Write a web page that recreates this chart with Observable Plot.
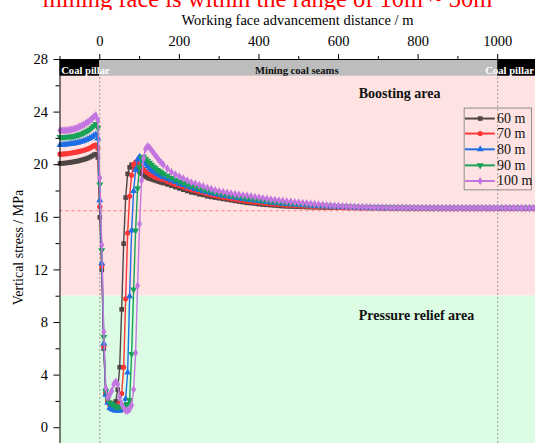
<!DOCTYPE html>
<html><head><meta charset="utf-8">
<script src="https://cdn.jsdelivr.net/npm/d3@7"></script>
<script src="https://cdn.jsdelivr.net/npm/@observablehq/plot@0.6"></script>
<style>
body{margin:0;background:#fff;width:535px;height:443px;overflow:hidden;font-family:"Liberation Serif",serif}
#title{height:10px;overflow:hidden;position:relative;width:535px}
#title span{position:absolute;left:0;width:535px;top:-10.5px;text-align:center;font-size:24.5px;line-height:18px;color:#ff0000;white-space:nowrap}
#chart svg{display:block}
</style></head>
<body>
<div id="title"><span>mining face is within the range of 10m ~ 30m</span></div>
<div id="chart"></div>
<script>
// distance along the working face (m)
const X = [-100,-95,-90,-85,-80,-75,-70,-65,-60,-55,-50,-45,-40,-35,-30,-25,-20,
-15,-10,-5,0,5,10,15,20,
25,30,35,40,45,50,55,60,65,70,75,80,85,90,95,100,105,110,115,120,125,130,135,140,145,150,155,160,
170,180,190,200,210,220,230,240,250,260,270,280,290,300,310,320,330,340,350,360,370,380,390,400,
410,420,430,440,450,460,470,480,490,500,510,520,530,540,550,560,570,580,590,600,610,620,630,640,650,660,670,680,690,700,
710,720,730,740,750,760,770,780,790,800,810,820,830,840,850,860,870,880,890,900,
910,920,930,940,950,960,970,980,990,1000,1010,1020,1030,1040,1050,1060,1070,1080,1090,1100];

const S60 = [20.1,20.1,20.12,20.13,20.15,20.17,20.2,20.22,20.25,20.28,20.32,20.36,20.4,20.45,20.5,20.57,20.65,
20.75,20.8,20.55,16.0,12.0,6.0,2.7,2.1,
1.9,1.8,1.8,2.0,2.9,4.6,9.0,14.0,17.5,19.3,19.8,20.0,19.9,19.75,19.6,19.45,19.3,19.2,19.1,19.0,18.95,18.9,18.85,18.8,18.75,18.7,18.65,18.6,
18.5,18.4,18.3,18.2,18.1,18.0,17.9,17.85,17.75,17.7,17.6,17.55,17.5,17.45,17.4,17.35,17.3,17.25,17.2,17.15,17.1,17.08,17.05,17.0,
16.97,16.95,16.92,16.9,16.87,16.85,16.83,16.82,16.81,16.8,16.79,16.78,16.77,16.76,16.76,16.75,16.75,16.74,16.74,16.73,16.73,16.72,16.72,16.72,16.72,16.71,16.71,16.71,16.71,16.7,
16.7,16.7,16.7,16.7,16.7,16.7,16.7,16.7,16.7,16.7,16.7,16.7,16.7,16.7,16.7,16.7,16.7,16.7,16.7,16.7,
16.7,16.7,16.7,16.7,16.7,16.7,16.7,16.7,16.7,16.7,16.7,16.7,16.7,16.7,16.7,16.7,16.7,16.7,16.7,16.7];

const S70 = [20.8,20.8,20.82,20.83,20.85,20.87,20.9,20.92,20.95,20.98,21.02,21.06,21.1,21.15,21.2,21.27,21.35,
21.45,21.5,21.25,16.8,12.3,6.2,2.6,2.0,
1.7,1.6,1.6,1.6,1.7,1.9,2.6,4.6,9.8,14.8,17.6,19.2,20.0,20.2,20.1,19.95,19.8,19.65,19.5,19.4,19.3,19.2,19.15,19.05,19.0,18.95,18.9,18.85,
18.72,18.6,18.5,18.4,18.3,18.2,18.1,18.02,17.94,17.86,17.78,17.7,17.64,17.58,17.52,17.47,17.42,17.37,17.32,17.27,17.23,17.19,17.15,17.12,
17.08,17.05,17.02,17.0,16.97,16.95,16.92,16.9,16.88,16.87,16.85,16.84,16.82,16.81,16.8,16.79,16.78,16.77,16.76,16.76,16.75,16.75,16.74,16.74,16.73,16.73,16.72,16.72,16.72,16.72,
16.71,16.71,16.71,16.71,16.71,16.7,16.7,16.7,16.7,16.7,16.7,16.7,16.7,16.7,16.7,16.7,16.7,16.7,16.7,16.7,
16.7,16.7,16.7,16.7,16.7,16.7,16.7,16.7,16.7,16.7,16.7,16.7,16.7,16.7,16.7,16.7,16.7,16.7,16.7,16.7];

const S80 = [21.5,21.5,21.52,21.53,21.55,21.57,21.6,21.62,21.65,21.68,21.72,21.77,21.82,21.88,21.95,22.02,22.1,
22.22,22.3,22.0,17.3,12.5,6.4,2.5,1.9,
1.5,1.4,1.35,1.3,1.3,1.3,1.35,1.5,2.2,4.2,10.0,15.0,18.0,19.6,20.4,20.6,20.45,20.25,20.05,19.9,19.75,19.6,19.5,19.4,19.3,19.2,19.12,19.05,
18.92,18.8,18.68,18.56,18.45,18.35,18.25,18.15,18.07,17.99,17.91,17.84,17.77,17.71,17.65,17.6,17.55,17.5,17.45,17.4,17.36,17.32,17.28,17.24,
17.2,17.16,17.13,17.1,17.07,17.04,17.01,16.99,16.97,16.95,16.93,16.91,16.9,16.88,16.86,16.85,16.84,16.83,16.82,16.81,16.8,16.79,16.78,16.77,16.77,16.76,16.76,16.75,16.75,16.74,
16.74,16.73,16.73,16.72,16.72,16.72,16.71,16.71,16.71,16.7,16.7,16.7,16.7,16.7,16.7,16.7,16.7,16.7,16.7,16.7,
16.7,16.7,16.7,16.7,16.7,16.7,16.7,16.7,16.7,16.7,16.7,16.7,16.7,16.7,16.7,16.7,16.7,16.7,16.7,16.7];

const S90 = [22.1,22.1,22.1,22.11,22.12,22.13,22.15,22.17,22.2,22.25,22.3,22.36,22.42,22.5,22.58,22.68,22.8,
22.95,23.1,22.8,18.5,13.5,6.9,2.8,2.2,
1.9,1.8,1.7,1.6,1.6,1.6,1.6,1.65,1.7,1.8,2.1,5.6,10.5,15.0,18.2,19.8,20.5,20.6,20.45,20.3,20.15,20.0,19.85,19.72,19.6,19.5,19.4,19.3,
19.15,19.0,18.86,18.73,18.6,18.5,18.4,18.3,18.2,18.12,18.04,17.96,17.89,17.82,17.76,17.7,17.65,17.6,17.55,17.5,17.45,17.41,17.37,17.33,
17.29,17.25,17.21,17.18,17.15,17.12,17.09,17.06,17.03,17.01,16.99,16.97,16.95,16.93,16.91,16.9,16.88,16.87,16.85,16.84,16.83,16.82,16.81,16.8,16.79,16.78,16.77,16.76,16.76,16.75,
16.75,16.74,16.74,16.73,16.73,16.73,16.72,16.72,16.72,16.71,16.71,16.71,16.7,16.7,16.7,16.7,16.7,16.7,16.7,16.7,
16.7,16.7,16.7,16.7,16.7,16.7,16.7,16.7,16.7,16.7,16.7,16.7,16.7,16.7,16.7,16.7,16.7,16.7,16.7,16.7];

const S100 = [22.6,22.6,22.6,22.61,22.62,22.65,22.68,22.71,22.75,22.82,22.9,22.97,23.05,23.15,23.25,23.37,23.5,
23.65,23.75,23.4,19.0,13.9,7.3,3.0,2.3,
2.5,2.8,3.3,3.5,3.3,2.3,1.8,1.5,1.3,1.3,1.4,1.7,2.9,5.7,10.8,15.5,18.8,20.5,21.2,21.4,21.3,21.1,20.9,20.7,20.5,20.3,20.15,20.0,
19.7,19.45,19.25,19.1,18.95,18.8,18.65,18.55,18.45,18.35,18.25,18.15,18.05,17.98,17.92,17.86,17.81,17.76,17.72,17.68,17.64,17.6,17.55,17.5,
17.45,17.4,17.36,17.32,17.28,17.25,17.21,17.18,17.15,17.12,17.09,17.06,17.03,17.0,16.97,16.95,16.92,16.9,16.88,16.86,16.84,16.83,16.81,16.8,16.79,16.78,16.77,16.76,16.75,16.75,
16.74,16.74,16.73,16.73,16.73,16.72,16.72,16.72,16.72,16.71,16.71,16.71,16.71,16.71,16.7,16.7,16.7,16.7,16.7,16.7,
16.7,16.7,16.7,16.7,16.7,16.7,16.7,16.7,16.7,16.7,16.7,16.7,16.7,16.7,16.7,16.7,16.7,16.7,16.7,16.7];

const seriesNames = ["60 m","70 m","80 m","90 m","100 m"];
const seriesColors = ["#4f4545","#ff3636","#1f6fe6","#17a258","#c476e0"];
const xTicks = [0,200,400,600,800,1000];
const xMinor = [-100,100,300,500,700,900];
const yTicks = [0,4,8,12,16,20,24,28];
const yMinor = [2,6,10,14,18,22,26];
const xTitle = "Working face advancement distance / m";
const yTitle = "Vertical stress / MPa";
const barLabels = ["Coal pillar","Mining coal seams","Coal pillar"];
const zoneLabels = ["Boosting area","Pressure relief area"];
const zoneBoundary = 10;      // MPa, boosting / relief boundary
const originalStress = 16.5;  // MPa, red dashed reference
const faceEnds = [0,1000];

const xDomain = [-100,1095];
const yDomain = [-1.2,28];
const font = "Liberation Serif";

const triDown = {draw(ctx, size){const s3=Math.sqrt(3);const y=-Math.sqrt(size/(s3*3));ctx.moveTo(0,-y*2);ctx.lineTo(-s3*y,y);ctx.lineTo(s3*y,y);ctx.closePath();}};
const symbols = ["square","circle","triangle",triDown,"diamond"];

const allSeries = [S60,S70,S80,S90,S100];
allSeries.forEach((a,i)=>{ if(a.length!==X.length) console.error("length mismatch", seriesNames[i], a.length, X.length); });
const seriesMarks = allSeries.flatMap((arr,i)=>{
  const rows = arr.map((v,j)=>({x:X[j], y:v}));
  return [
    Plot.line(rows,{x:"x",y:"y",stroke:seriesColors[i],strokeWidth:1.4}),
    Plot.dot(rows,{x:"x",y:"y",fill:seriesColors[i],r:2.6,symbol:()=>symbols[i]})
  ];
});

// legend (decoration) in data units
const legY = [23.51,22.37,21.17,19.95,18.76];
const legendRows = seriesNames.map((n,i)=>({name:n,y:legY[i],i}));
const legendMarks = [
  Plot.rect([0],{x1:917,x2:1086,y1:18.05,y2:24.27,stroke:"#8c8c8c",fill:"none",strokeWidth:1}),
  Plot.ruleY(legendRows,{y:"y",x1:919,x2:994,stroke:d=>seriesColors[d.i],strokeWidth:2}),
  ...legendRows.map(d=>Plot.dot([d],{x:956,y:"y",fill:seriesColors[d.i],r:2.6,symbol:()=>symbols[d.i]})),
  Plot.text(legendRows,{x:998,y:"y",text:"name",textAnchor:"start",fontSize:14,fontFamily:font,fill:"#111"})
];

const bars = [
  {x1:-100,x2:0,fill:"#000"},
  {x1:0,x2:1000,fill:"#bdbdbd"},
  {x1:1000,x2:xDomain[1],fill:"#000"}
];
const barTextOpts = {y:26.91,lineAnchor:"bottom",fontSize:10.6,fontWeight:"bold",fontFamily:font};

const chart = Plot.plot({
  width:535, height:433,
  marginLeft:59.5, marginRight:0, marginTop:49, marginBottom:0,
  style:{fontFamily:font, color:"#000", background:"transparent", overflow:"visible"},
  x:{domain:xDomain},
  y:{domain:yDomain},
  marks:[
    Plot.rect([0],{x1:xDomain[0],x2:xDomain[1],y1:zoneBoundary,y2:28,fill:"#ffe3e3"}),
    Plot.rect([0],{x1:xDomain[0],x2:xDomain[1],y1:yDomain[0],y2:zoneBoundary,fill:"#dcfce3"}),
    Plot.ruleY([originalStress],{stroke:"#ff7a7a",strokeDasharray:"3,3",strokeWidth:1}),
    Plot.ruleX(faceEnds,{y1:yDomain[0],y2:26.73,stroke:"#9a9a9a",strokeDasharray:"2,2",strokeWidth:1}),
    Plot.rect(bars,{x1:"x1",x2:"x2",y1:26.73,y2:28,fill:d=>d.fill}),
    Plot.text([barLabels[0]],{...barTextOpts,x:-97,text:d=>d,fill:"#fff",textAnchor:"start"}),
    Plot.text([barLabels[1]],{...barTextOpts,x:495,text:d=>d,fill:"#111",textAnchor:"middle"}),
    Plot.text([barLabels[2]],{...barTextOpts,x:969,text:d=>d,fill:"#fff",textAnchor:"start"}),
    ...seriesMarks,
    Plot.text([zoneLabels[0]],{x:650.7,y:25.11,text:d=>d,textAnchor:"start",lineAnchor:"bottom",fontSize:14,fontWeight:"bold",fontFamily:font,fill:"#111"}),
    Plot.text([zoneLabels[1]],{x:650.7,y:8.2,text:d=>d,textAnchor:"start",lineAnchor:"bottom",fontSize:14,fontWeight:"bold",fontFamily:font,fill:"#111"}),
    ...legendMarks,
    Plot.ruleY([28],{stroke:"#000",strokeWidth:1}),
    Plot.ruleX([xDomain[0]],{stroke:"#000",strokeWidth:1}),
    Plot.axisX({anchor:"top",ticks:xTicks,tickSize:6,tickPadding:8,fontSize:14.5,fontFamily:font,tickFormat:d=>String(d),label:null}),
    Plot.axisX({anchor:"top",ticks:xMinor,tickSize:4,fill:"none",label:null}),
    Plot.axisY({anchor:"left",ticks:yTicks,tickSize:6,tickPadding:6,fontSize:14.5,fontFamily:font,tickFormat:d=>String(d),label:null}),
    Plot.axisY({anchor:"left",ticks:yMinor,tickSize:4,fill:"none",label:null}),
    Plot.text([xTitle],{x:497,y:30.63,text:d=>d,textAnchor:"middle",lineAnchor:"bottom",fontSize:14.5,fontFamily:font,fill:"#000"}),
    Plot.text([yTitle],{x:xDomain[0],y:13.7,dx:-37,text:d=>d,rotate:-90,textAnchor:"middle",lineAnchor:"bottom",fontSize:14,fontFamily:font,fill:"#000"})
  ]
});
document.getElementById("chart").appendChild(chart);
</script>
</body></html>
